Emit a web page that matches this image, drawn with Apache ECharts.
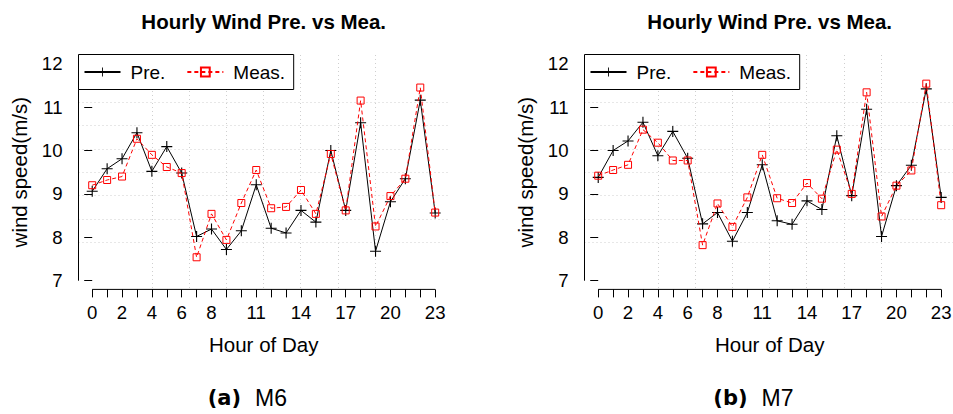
<!DOCTYPE html>
<html><head><meta charset="utf-8">
<script src="https://cdn.jsdelivr.net/npm/echarts@6/dist/echarts.min.js"></script>
<style>html,body{margin:0;padding:0;background:#fff}#c{width:953px;height:414px}</style>
</head><body><div id="c"></div>
<script>
const hours = [0,1,2,3,4,5,6,7,8,9,10,11,12,13,14,15,16,17,18,19,20,21,22,23];
const xTickLabels = [0,2,4,6,8,11,14,17,20,23];
const yTicks = [7,8,9,10,11,12];
const seriesNames = ['Pre.', 'Meas.'];
const panelTitle = 'Hourly Wind Pre. vs Mea.';
const xName = 'Hour of Day';
const yName = 'wind speed(m/s)';
const captionTags = ['(a)', '(b)'];
const captionNames = ['M6', 'M7'];

const preM6  = [9.06,9.58,9.81,10.41,9.52,10.09,9.48,8.02,8.19,7.72,8.15,9.21,8.21,8.10,8.62,8.35,10.00,8.62,10.64,7.68,8.82,9.35,11.16,8.56];
const measM6 = [9.20,9.32,9.40,10.27,9.90,9.62,9.48,7.54,8.54,7.94,8.79,9.55,8.67,8.70,9.09,8.54,9.92,8.62,11.15,8.25,8.95,9.35,11.45,8.57];
const preM7  = [9.38,10.00,10.22,10.65,9.88,10.44,9.82,8.31,8.57,7.91,8.57,9.67,8.38,8.30,8.84,8.64,10.34,8.96,10.95,8.02,9.19,9.66,11.42,8.92];
const measM7 = [9.42,9.55,9.67,10.48,10.18,9.77,9.77,7.82,8.78,8.24,8.92,9.90,8.90,8.79,9.25,8.89,10.02,9.00,11.34,8.48,9.19,9.54,11.54,8.74];

// layout (plot region like R's usr with 4% extension; 10x10 dotted grid)
const X_RANGE = [-0.92, 23.92];
const Y_RANGE = [6.8, 12.2];
const GRID_DIV = [1,2,3,4,5,6,7,8,9];
const FONT = '"Liberation Sans", Arial, Helvetica, sans-serif';
const GRID_W = 370.4, GRID_TOP = 55, GRID_H = 234.4;
const PLUS = 'path://M0,4.5H10V5.5H0Z M4.5,0H5.5V10H4.5Z';

const panels = [
  {left: 78.5, pre: preM6, meas: measM6},
  {left: 584.5, pre: preM7, meas: measM7}
];

const grid = [], xAxis = [], yAxis = [], series = [], legend = [], graphic = [];
const gridLine = {show: true, showMinLine: false, showMaxLine: false, lineStyle: {color: '#cfcfcf', type: [1, 3], width: 1}};

panels.forEach((p, i) => {
  grid.push({left: p.left, top: GRID_TOP, width: GRID_W, height: GRID_H, outerBoundsMode: 'none'});
  xAxis.push({
    gridIndex: i, type: 'value', min: X_RANGE[0], max: X_RANGE[1], position: 'bottom',
    axisLine: {show: false},
    axisTick: {show: true, customValues: hours, length: 8, lineStyle: {color: '#000', width: 1}},
    axisLabel: {show: true, customValues: xTickLabels, margin: 14, fontSize: 18.6, color: '#000', fontFamily: FONT},
    splitLine: {show: false},
    name: xName, nameLocation: 'middle', nameGap: 45,
    nameTextStyle: {fontSize: 20.5, fontFamily: FONT, color: '#000', lineHeight: 21}
  });
  xAxis.push({
    gridIndex: i, type: 'value', min: 0, max: 10, interval: 1, position: 'top',
    axisLine: {show: false}, axisTick: {show: false, customValues: GRID_DIV}, axisLabel: {show: false},
    splitLine: gridLine
  });
  yAxis.push({
    gridIndex: i, type: 'value', min: Y_RANGE[0], max: Y_RANGE[1], position: 'left',
    axisLine: {show: false},
    axisTick: {show: true, customValues: yTicks, length: 8, lineStyle: {color: '#000', width: 1}},
    axisLabel: {show: true, customValues: yTicks, margin: 16, fontSize: 18.6, color: '#000', fontFamily: FONT},
    splitLine: {show: false},
    name: yName, nameLocation: 'middle', nameGap: 49,
    nameTextStyle: {fontSize: 20.5, fontFamily: FONT, color: '#000', lineHeight: 21}
  });
  yAxis.push({
    gridIndex: i, type: 'value', min: 0, max: 10, interval: 1, position: 'right',
    axisLine: {show: false}, axisTick: {show: false, customValues: GRID_DIV}, axisLabel: {show: false},
    splitLine: gridLine
  });
  const xi = 2 * i, yi = 2 * i;
  series.push({
    name: seriesNames[0], type: 'line', xAxisIndex: xi, yAxisIndex: yi,
    data: hours.map((h, k) => [h, p.pre[k]]),
    color: '#000', symbol: PLUS, symbolSize: 11, showAllSymbol: true,
    lineStyle: {color: '#000', width: 1}, itemStyle: {color: '#000', borderWidth: 0},
    z: 3, animation: false
  });
  series.push({
    name: seriesNames[1], type: 'line', xAxisIndex: xi, yAxisIndex: yi,
    data: hours.map((h, k) => [h, p.meas[k]]),
    color: '#ff0000', symbol: 'rect', symbolSize: 7, showAllSymbol: true,
    lineStyle: {color: '#ff0000', width: 1, type: [4, 3]},
    itemStyle: {color: 'rgba(0,0,0,0)', borderColor: '#ff0000', borderWidth: 1},
    z: 4, animation: false
  });
  series.push({
    type: 'line', xAxisIndex: xi, yAxisIndex: yi, silent: true, clip: false, symbol: 'none',
    data: [[X_RANGE[0], yTicks[0]], [X_RANGE[0], yTicks[yTicks.length - 1]]],
    lineStyle: {color: '#000', width: 1}, z: 2, animation: false
  });
  series.push({
    type: 'line', xAxisIndex: xi, yAxisIndex: yi, silent: true, clip: false, symbol: 'none',
    data: [[hours[0], Y_RANGE[0]], [hours[hours.length - 1], Y_RANGE[0]]],
    lineStyle: {color: '#000', width: 1}, z: 2, animation: false
  });
  legend.push({
    left: p.left, top: 54.5, orient: 'horizontal', data: seriesNames, selectedMode: false,
    itemWidth: 36, itemHeight: 11, itemGap: 21, padding: [7.5, 8.6, 7.5, 5],
    borderColor: '#000', borderWidth: 1, backgroundColor: '#fff', borderRadius: 0,
    textStyle: {fontSize: 19, fontFamily: FONT, color: '#000', lineHeight: 20, padding: [0, 0, 0, 5]},
    z: 10
  });
  const cx = p.left + GRID_W / 2;
  graphic.push({
    type: 'text', x: cx, y: 21, silent: true,
    style: {text: panelTitle, fontSize: 20.5, fontWeight: 'bold', fontFamily: FONT, fill: '#000', align: 'center', verticalAlign: 'middle'}
  });
  graphic.push({
    type: 'text', x: cx - 16.3, y: 398, silent: true,
    style: {
      text: '{b|' + captionTags[i] + '}{r|' + captionNames[i] + '}',
      align: 'center', verticalAlign: 'middle',
      rich: {
        b: {fontFamily: '"DejaVu Sans", sans-serif', fontWeight: 'bold', fontSize: 21, fill: '#000'},
        r: {fontFamily: FONT, fontSize: 23, fill: '#000', padding: [0, 0, 0, 14]}
      }
    }
  });
});

const chart = echarts.init(document.getElementById('c'), null, {renderer: 'svg'});
chart.setOption({
  animation: false,
  backgroundColor: '#fff',
  grid, xAxis, yAxis, series, legend, graphic
});
</script>
</body></html>
